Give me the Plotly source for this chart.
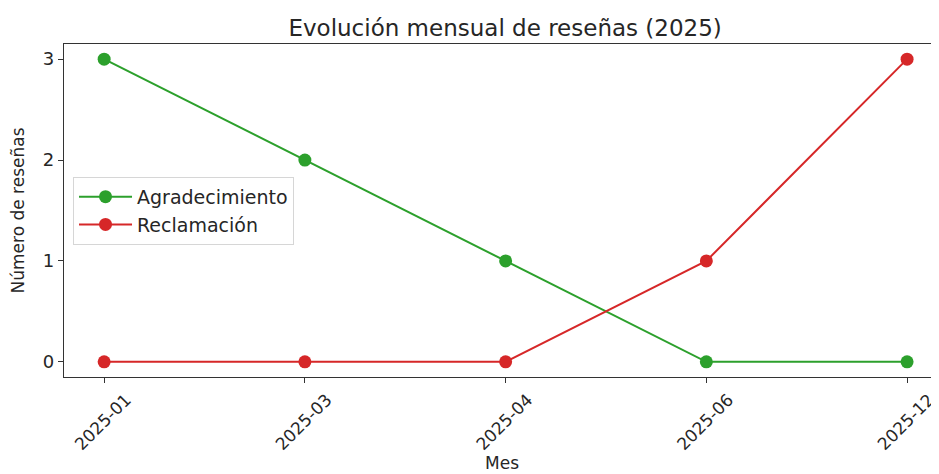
import plotly.graph_objects as go

# monthly review counts
meses = ["2025-01", "2025-03", "2025-04", "2025-06", "2025-12"]
agradecimiento = [3, 2, 1, 0, 0]
reclamacion = [0, 0, 0, 1, 3]

font = "DejaVu Sans, Liberation Sans, sans-serif"
ink = "#262626"

fig = go.Figure()
fig.add_trace(go.Scatter(x=meses, y=agradecimiento, name="Agradecimiento",
                         mode="lines+markers",
                         line=dict(color="#2ca02c", width=2),
                         marker=dict(color="#2ca02c", size=13)))
fig.add_trace(go.Scatter(x=meses, y=reclamacion, name="Reclamación",
                         mode="lines+markers",
                         line=dict(color="#d62728", width=2),
                         marker=dict(color="#d62728", size=13)))

# the page body adds an 8px offset, so the figure is sized to fit the window
fig.update_layout(
    width=931, height=466,
    margin=dict(l=56, r=0, t=36, b=97),
    paper_bgcolor="white", plot_bgcolor="white",
    font=dict(family=font, size=18, color=ink),
    title=dict(text="Evolución mensual de reseñas (2025)", x=0.534, xanchor="center",
               y=0.957, yanchor="middle", font=dict(size=23, color=ink)),
    legend=dict(x=0.0103, y=0.601, xanchor="left", yanchor="top",
                bordercolor="#d6d6d6", borderwidth=1, bgcolor="white",
                font=dict(size=19), itemwidth=53, tracegroupgap=0),
    showlegend=True,
)

fig.update_xaxes(type="category", range=[-0.2, 4.159],
                 showline=True, linecolor="#333", linewidth=1.3, mirror=True,
                 ticks="outside", ticklen=5, tickcolor="#333",
                 tickangle=-45, showgrid=False, zeroline=False,
                 tickfont=dict(size=17), ticklabelshift=22)
fig.update_yaxes(range=[-0.15, 3.15], tickvals=[0, 1, 2, 3],
                 showline=True, linecolor="#333", linewidth=1.3,
                 ticks="outside", ticklen=5, tickcolor="#333",
                 showgrid=False, zeroline=False,
                 tickfont=dict(size=18))

# axis titles
fig.add_annotation(text="Mes", xref="paper", yref="paper", x=0.5, y=0,
                   yshift=-86, xanchor="center", yanchor="middle",
                   showarrow=False, font=dict(size=17, color=ink))
fig.add_annotation(text="Número de reseñas", xref="paper", yref="paper", x=0, y=0.5,
                   xshift=-47, textangle=-90, xanchor="center", yanchor="middle",
                   showarrow=False, font=dict(size=17, color=ink))

fig.write_html("out.html")
